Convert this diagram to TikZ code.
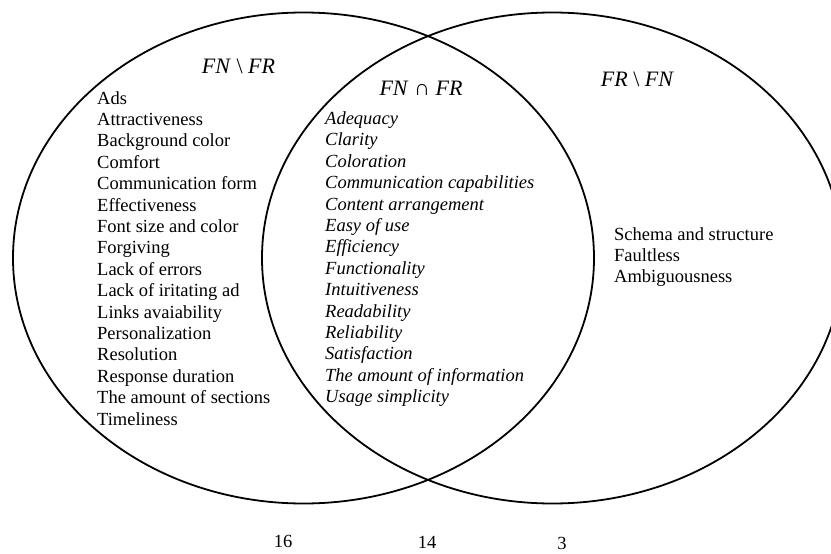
\documentclass[tikz,border=0pt]{standalone}
\usepackage{fontspec}
\setmainfont{Liberation Serif}
\usepackage{tikz}

\begin{document}
\begin{tikzpicture}[x=1pt, y=-1pt,
    item/.style={anchor=base west, inner sep=0pt, font=\fontsize{18.5}{21.4}\selectfont},
    both item/.style={item, font=\fontsize{18.5}{21.4}\selectfont\itshape},
    set title/.style={anchor=base, inner sep=0pt, font=\fontsize{22}{26}\selectfont},
    card num/.style={anchor=base, inner sep=0pt, font=\fontsize{18.5}{21.4}\selectfont}]
    \useasboundingbox (0,0) rectangle (831,554);
    \clip (0,0) rectangle (831,554);

    % the two sets
    \draw[line width=1.8pt] (303.5,258) ellipse [x radius=290.5pt, y radius=245.5pt];
    \draw[line width=1.8pt] (552.5,258) ellipse [x radius=290.5pt, y radius=245.5pt];

    % titles
    \node[set title] (fn title) at (238.5,73) {\textit{FN} \textbackslash{} \textit{FR}};
    \node[set title] (both title) at (421,95) {\textit{FN} ∩ \textit{FR}};
    \node[set title] (fr title) at (637.5,86) {\textit{FR} \textbackslash{} \textit{FN}};

    % FN only
    \foreach \t [count=\i] in {Ads, Attractiveness, Background color, Comfort,
        Communication form, Effectiveness, Font size and color, Forgiving,
        Lack of errors, Lack of iritating ad, Links avaiability, Personalization,
        Resolution, Response duration, The amount of sections, Timeliness}
        \node[item] (fn\i) at (97, {104+21.4*(\i-1)}) {\t};

    % both
    \foreach \t [count=\i] in {Adequacy, Clarity, Coloration,
        Communication capabilities, Content arrangement, Easy of use, Efficiency,
        Functionality, Intuitiveness, Readability, Reliability, Satisfaction,
        The amount of information, Usage simplicity}
        \node[both item] (both\i) at (325, {124.5+21.4*(\i-1)}) {\t};

    % FR only
    \foreach \t [count=\i] in {Schema and structure, Faultless, Ambiguousness}
        \node[item] (fr\i) at (614, {240+21.4*(\i-1)}) {\t};

    % counts
    \node[card num] (fn count) at (283,547) {16};
    \node[card num] (both count) at (427,548) {14};
    \node[card num] (fr count) at (562,549) {3};
\end{tikzpicture}
\end{document}
